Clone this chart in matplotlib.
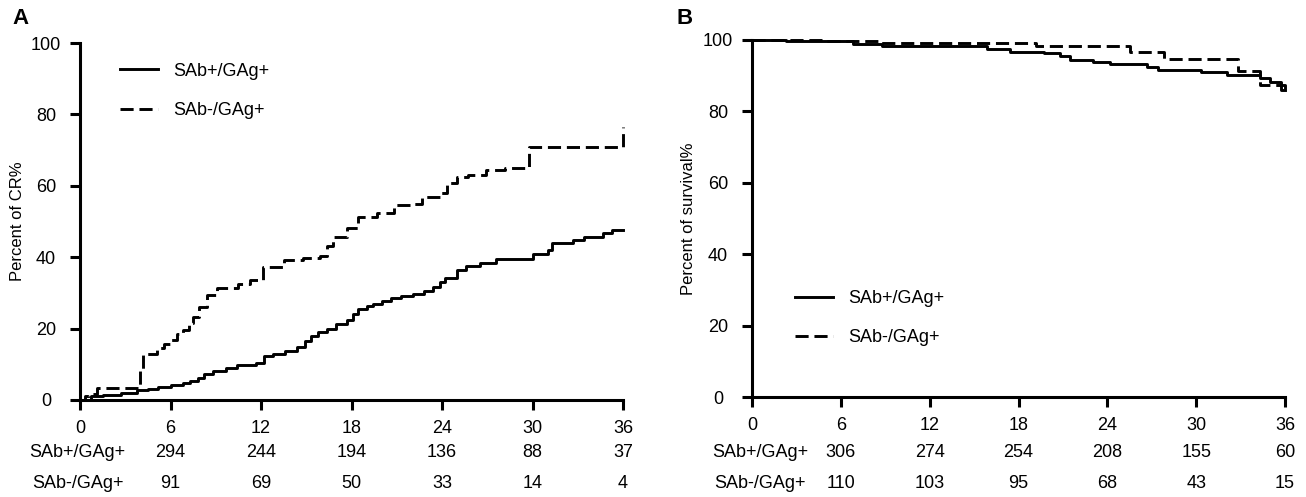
import matplotlib
matplotlib.use('Agg')
import matplotlib.pyplot as plt
import numpy as np

plt.rcParams['font.family'] = ['Liberation Sans', 'DejaVu Sans']

GROUPS = ('SAb+/GAg+', 'SAb-/GAg+')
MONTHS = [0, 6, 12, 18, 24, 30, 36]

# Panel A: cumulative complete response (%), step curves
cr_pos_t = [0, 0.7, 1.5, 2.7, 3.8, 4.5, 5.2, 6, 6.8, 7.3, 7.8, 8.2, 8.8, 9.7, 10.4, 11.7,
            12.2, 12.8, 13.6, 14.4, 14.9, 15.3, 15.8, 16.4, 17, 17.7, 18.1, 18.4, 19, 19.4,
            20, 20.6, 21.3, 22.1, 22.8, 23.4, 23.9, 24.2, 25, 25.6, 26.5, 27.6, 30, 31,
            31.3, 32.7, 33.4, 34.7, 35.3, 36]
cr_pos_v = [0, 1, 1.5, 2, 2.8, 3.2, 3.6, 4.2, 4.8, 5.4, 6.2, 7.2, 8, 9, 9.8, 10.4,
            12.2, 13, 13.6, 14.8, 16.4, 18, 19, 20, 21.2, 22.4, 24, 25.4, 26.4, 27,
            27.8, 28.5, 29, 29.6, 30.6, 31.7, 33, 34.2, 36.4, 37.5, 38.3, 39.4, 41, 42,
            44, 44.8, 45.7, 46.7, 47.6, 47.6]
cr_neg_t = [0, 0.3, 0.6, 1.1, 3.8, 4.0, 4.2, 5.1, 5.6, 6, 6.4, 6.8, 7.2, 7.5, 7.9, 8.4,
            9.1, 10.5, 11.3, 12.1, 13.5, 14.8, 15.9, 16.4, 16.8, 17.7, 18.4, 19.7, 20.8,
            22.1, 22.7, 23.9, 24.3, 25, 25.7, 26.9, 28.2, 29.8, 36]
cr_neg_v = [0, 1, 1.8, 3.4, 3.4, 8, 13, 14.6, 15.6, 16.8, 18.4, 19.6, 21.5, 23.2, 26, 29.4,
            31.4, 32.4, 33.6, 37.3, 39.2, 39.8, 40.3, 43, 45.7, 48.2, 51.3, 52.4, 54.6,
            55, 57, 58, 60.8, 62.5, 63, 64.4, 65, 70.9, 76.5]
cr_risk_pos = [294, 244, 194, 136, 88, 37]
cr_risk_neg = [91, 69, 50, 33, 14, 4]

# Panel B: survival (%)
os_pos_t = [0, 2.3, 6.8, 8.8, 15.9, 17.4, 19.7, 20.8, 21.5, 23, 24.2, 26.7, 27.4, 30.3,
            32.1, 34.3, 35, 35.7, 36]
os_pos_v = [100, 99.7, 98.9, 98.2, 97.5, 96.7, 96.4, 95.5, 94.3, 93.8, 93.3, 92.3, 91.6,
            91, 90.3, 89.3, 88.3, 86, 86]
os_neg_t = [0, 5, 8.5, 19.2, 25.5, 27.8, 32.8, 34.3, 36]
os_neg_v = [100, 99.6, 99.2, 98.4, 96.7, 94.7, 91.2, 87.4, 85.1]
os_risk_pos = [306, 274, 254, 208, 155, 60]
os_risk_neg = [110, 103, 95, 68, 43, 15]

W, H = 1306, 497
fig = plt.figure(figsize=(W / 100, H / 100), dpi=100)

def px_axes(l, t, r, b):
    return fig.add_axes([l / W, 1 - b / H, (r - l) / W, (b - t) / H])

axA = px_axes(80, 43, 623, 400)
axB = px_axes(752, 40, 1285, 397)

FS = 13
LW = 2.1
DASH = (4.5, 2)

def style(ax, ylabel, label_x):
    ax.set_xlim(0, 36)
    ax.set_ylim(0, 100)
    ax.set_xticks(MONTHS)
    ax.set_yticks(range(0, 101, 20))
    for s in ('top', 'right'):
        ax.spines[s].set_visible(False)
    for s in ('left', 'bottom'):
        ax.spines[s].set_linewidth(2.2)
    ax.tick_params(width=2.2, length=7.5, labelsize=FS)
    ax.tick_params(axis='x', pad=7)
    ax.tick_params(axis='y', pad=17)
    for lab in ax.get_yticklabels():
        lab.set_horizontalalignment('center')
    ax.set_ylabel(ylabel, fontsize=12)
    ax.yaxis.set_label_coords(label_x, 0.5)

def risk_table(ax, pos, neg, y1, y2, lab_x):
    tr = ax.get_xaxis_transform()
    for y, name, vals in ((y1, GROUPS[0], pos), (y2, GROUPS[1], neg)):
        ax.text(lab_x, y, name, transform=tr, ha='center', va='center', fontsize=FS, clip_on=False)
        for m, v in zip(MONTHS[1:], vals):
            ax.text(m, y, str(v), transform=tr, ha='center', va='center', fontsize=FS, clip_on=False)

leg_kw = dict(loc='upper left', frameon=False, fontsize=FS, handlelength=2.1,
              handletextpad=0.85, labelspacing=1.25, borderpad=0, borderaxespad=0)

# Panel A
axA.plot(cr_pos_t, cr_pos_v, drawstyle='steps-post', color='black', lw=LW,
         label=GROUPS[0], clip_on=False)
axA.plot(cr_neg_t, cr_neg_v, drawstyle='steps-post', color='black', lw=LW,
         dashes=DASH, label=GROUPS[1], clip_on=False)
style(axA, 'Percent of CR%', -0.101)
axA.legend(bbox_to_anchor=(0.073, 0.945), **leg_kw)
risk_table(axA, cr_risk_pos, cr_risk_neg, -0.148, -0.235, -0.15)

# Panel B
axB.plot(os_pos_t, os_pos_v, drawstyle='steps-post', color='black', lw=LW,
         label=GROUPS[0], clip_on=False)
axB.plot(os_neg_t, os_neg_v, drawstyle='steps-post', color='black', lw=LW,
         dashes=DASH, label=GROUPS[1], clip_on=False)
style(axB, 'Percent of survival%', -0.105)
axB.legend(bbox_to_anchor=(0.08, 0.3), **leg_kw)
risk_table(axB, os_risk_pos, os_risk_neg, -0.156, -0.243, 0.55)

fig.text(12 / W, 1 - 18 / H, 'A', fontsize=16, fontweight='bold', ha='left', va='center')
fig.text(677 / W, 1 - 18 / H, 'B', fontsize=16, fontweight='bold', ha='left', va='center')

fig.savefig('out.png', dpi=100)
